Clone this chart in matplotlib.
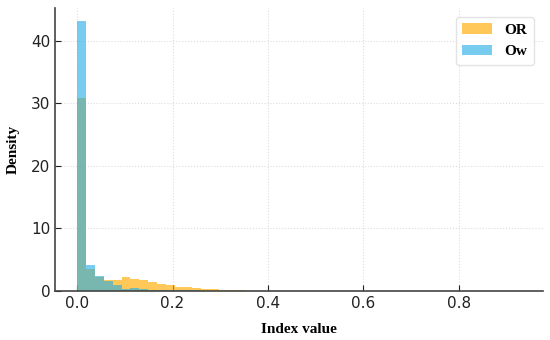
import numpy as np
import matplotlib
matplotlib.use('Agg')
import matplotlib.pyplot as plt

# Histogram of index values (density), 50 bins between 0 and 0.93
bin_edges = np.linspace(0, 0.93, 51)
or_density = [30.8, 3.6, 2.3, 1.8, 1.8, 2.2, 2.0, 1.8, 1.4, 1.2,
              1.0, 0.7, 0.6, 0.5, 0.4, 0.25, 0.15, 0.12, 0.1, 0.05,
              0.03, 0.02, 0.01, 0.01, 0.01, 0.0, 0.0, 0.0, 0.0, 0.0,
              0.0, 0.0, 0.0, 0.0, 0.0, 0.0, 0.0, 0.0, 0.0, 0.0,
              0.0, 0.0, 0.0, 0.0, 0.0, 0.0, 0.0, 0.0, 0.0, 0.01]
ow_density = [43.2, 4.1, 2.4, 1.6, 1.0, 0.3, 0.5, 0.4, 0.1, 0.1,
              0.1, 0.1, 0.1, 0.2, 0.05, 0.03, 0.02, 0.01, 0.01, 0.0,
              0.0, 0.0, 0.0, 0.0, 0.0, 0.0, 0.0, 0.0, 0.0, 0.0,
              0.0, 0.0, 0.0, 0.0, 0.0, 0.0, 0.0, 0.0, 0.0, 0.0,
              0.0, 0.0, 0.0, 0.0, 0.0, 0.0, 0.0, 0.0, 0.0, 0.01]

centers = (bin_edges[:-1] + bin_edges[1:]) / 2

fig = plt.figure(figsize=(5.5, 3.4), dpi=100)
ax = fig.add_axes([0.1, 0.144, 0.887, 0.832])

ax.hist(centers, bins=bin_edges, weights=or_density, color='#FFAB00', alpha=0.65, label='OR')
ax.hist(centers, bins=bin_edges, weights=ow_density, color='#25AEE7', alpha=0.62, label='Ow')

ax.set_xlim(-0.0465, 0.9765)
ax.set_ylim(0, 45.2)
ax.set_xticks([0.0, 0.2, 0.4, 0.6, 0.8])
ax.set_yticks([0, 10, 20, 30, 40])
ax.grid(True, linestyle=':', color='#dddddd', linewidth=0.8)
ax.set_axisbelow(True)

for s in ['top', 'right']:
    ax.spines[s].set_visible(False)
for s in ['left', 'bottom']:
    ax.spines[s].set_color('#444444')
    ax.spines[s].set_linewidth(1.2)
ax.tick_params(direction='in', length=4, labelsize=11, colors='#222222')

ax.set_xlabel('Index value', fontfamily='Liberation Serif', fontweight='bold', fontsize=11, labelpad=9)
ax.set_ylabel('Density', fontfamily='Liberation Serif', fontweight='bold', fontsize=11, labelpad=8)

ax.legend(loc='upper right', prop={'family': 'Liberation Serif', 'weight': 'bold', 'size': 11},
          frameon=True, edgecolor='#dddddd', fancybox=True, borderaxespad=0.6)

fig.savefig('out.png', dpi=100)
